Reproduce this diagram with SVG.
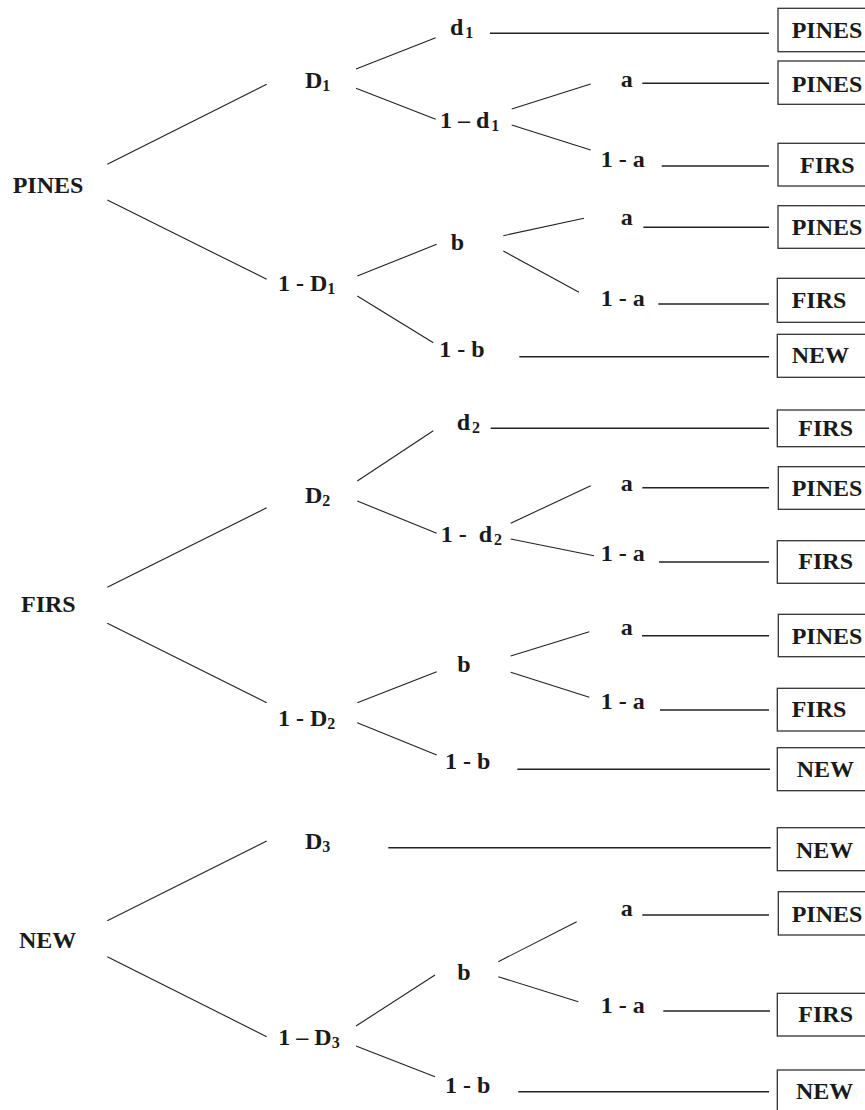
<svg xmlns="http://www.w3.org/2000/svg" width="865" height="1110" viewBox="0 0 865 1110">
<style>
text{font-family:"Liberation Serif","Times New Roman",serif;font-weight:bold;font-size:24px;fill:#1a1a1a}
.sub{font-size:16px}
.c line{stroke:#222;stroke-width:1.1;fill:none}
.c .h{stroke-width:1.4}
.box rect{fill:#fff;stroke:#333;stroke-width:1.3}
</style>
<rect width="865" height="1110" fill="#fff"/>
<g id="connectors" class="c">
<line x1="107.3" y1="164.3" x2="266.7" y2="84.3"/>
<line x1="107.3" y1="200" x2="266.7" y2="279.3"/>
<line x1="356" y1="69" x2="435.7" y2="37.7"/>
<line x1="356" y1="88.3" x2="435.7" y2="119.3"/>
<line x1="357.3" y1="276" x2="436.7" y2="244.3"/>
<line x1="357.3" y1="296" x2="433.3" y2="342.7"/>
<line x1="511.7" y1="109" x2="590.7" y2="84"/>
<line x1="511.7" y1="125" x2="590.7" y2="150"/>
<line x1="503.3" y1="235.7" x2="584" y2="218.3"/>
<line x1="503.3" y1="251" x2="579" y2="292.3"/>
<line class="h" x1="490" y1="33.3" x2="769" y2="33.3"/>
<line class="h" x1="642.3" y1="83.3" x2="769" y2="83.3"/>
<line class="h" x1="661.7" y1="166" x2="769" y2="166"/>
<line class="h" x1="643.3" y1="227.3" x2="769" y2="227.3"/>
<line class="h" x1="658.3" y1="304" x2="769" y2="304"/>
<line class="h" x1="519.3" y1="356.7" x2="769" y2="356.7"/>

<line x1="107.3" y1="587.3" x2="266.7" y2="507.7"/>
<line x1="107.3" y1="623.3" x2="266.7" y2="702.7"/>
<line x1="357.3" y1="481" x2="433.3" y2="430.7"/>
<line x1="357.3" y1="501" x2="436.7" y2="533.3"/>
<line x1="357.3" y1="702.7" x2="436.7" y2="671.7"/>
<line x1="357.3" y1="722.7" x2="436.7" y2="755"/>
<line x1="510.7" y1="523.3" x2="590.7" y2="485.7"/>
<line x1="510.7" y1="539" x2="594" y2="555.7"/>
<line x1="510.7" y1="656" x2="589.3" y2="631.7"/>
<line x1="510.7" y1="672.3" x2="589.3" y2="697.3"/>
<line class="h" x1="490.7" y1="428.3" x2="769" y2="428.3"/>
<line class="h" x1="642.3" y1="487.7" x2="769" y2="487.7"/>
<line class="h" x1="659" y1="562" x2="769" y2="562"/>
<line class="h" x1="642" y1="635.7" x2="769" y2="635.7"/>
<line class="h" x1="660" y1="710" x2="769" y2="710"/>
<line class="h" x1="517.3" y1="769.3" x2="770" y2="769.3"/>

<line x1="107.3" y1="920.7" x2="266.7" y2="841"/>
<line x1="107.3" y1="956.7" x2="266.7" y2="1036.7"/>
<line x1="356" y1="1026" x2="435" y2="975"/>
<line x1="356" y1="1046" x2="435" y2="1076.7"/>
<line x1="498.3" y1="961.7" x2="576.7" y2="921.7"/>
<line x1="498.3" y1="976.7" x2="578.3" y2="1001.7"/>
<line class="h" x1="388.3" y1="847.7" x2="770.7" y2="847.7"/>
<line class="h" x1="642.3" y1="915" x2="769" y2="915"/>
<line class="h" x1="663.3" y1="1011" x2="770" y2="1011"/>
<line class="h" x1="518.3" y1="1091.7" x2="769" y2="1091.7"/>
</g>

<g id="n-pines"><text x="12.7" y="193">PINES</text></g>
<g id="n-firs"><text x="21" y="612.3">FIRS</text></g>
<g id="n-new"><text x="19" y="947.7">NEW</text></g>

<g id="n-D1"><text x="305" y="88.3">D<tspan class="sub" dy="3">1</tspan></text></g>
<g id="n-1mD1"><text x="278" y="291">1 - D<tspan class="sub" dy="3">1</tspan></text></g>
<g id="n-d1"><text x="450" y="35">d<tspan class="sub" dx="2" dy="3">1</tspan></text></g>
<g id="n-1md1"><text x="440" y="127.7">1 – d<tspan class="sub" dx="2" dy="3">1</tspan></text></g>
<g id="n-a1"><text x="620.7" y="86.7">a</text></g>
<g id="n-1ma1"><text x="600.7" y="166.7">1 - a</text></g>
<g id="n-b1"><text x="450.7" y="250">b</text></g>
<g id="n-a2"><text x="620.7" y="225">a</text></g>
<g id="n-1ma2"><text x="600.7" y="306">1 - a</text></g>
<g id="n-1mb1"><text x="439.3" y="357.3">1 - b</text></g>

<g id="n-D2"><text x="305" y="503.3">D<tspan class="sub" dy="3">2</tspan></text></g>
<g id="n-1mD2"><text x="278" y="726">1 - D<tspan class="sub" dy="3">2</tspan></text></g>
<g id="n-d2"><text x="456.7" y="430">d<tspan class="sub" dx="2" dy="3">2</tspan></text></g>
<g id="n-1md2"><text x="440.7" y="541.7" xml:space="preserve">1 -  d<tspan class="sub" dx="2" dy="3">2</tspan></text></g>
<g id="n-a3"><text x="620.7" y="490.7">a</text></g>
<g id="n-1ma3"><text x="600.7" y="561">1 - a</text></g>
<g id="n-b2"><text x="457.3" y="671.7">b</text></g>
<g id="n-a4"><text x="620.7" y="635">a</text></g>
<g id="n-1ma4"><text x="600.7" y="709">1 - a</text></g>
<g id="n-1mb2"><text x="445" y="769">1 - b</text></g>

<g id="n-D3"><text x="305" y="849.3">D<tspan class="sub" dy="3">3</tspan></text></g>
<g id="n-1mD3"><text x="278.3" y="1045">1 – D<tspan class="sub" dy="3">3</tspan></text></g>
<g id="n-a5"><text x="620.7" y="916">a</text></g>
<g id="n-b3"><text x="457.3" y="980">b</text></g>
<g id="n-1ma5"><text x="600.7" y="1012.7">1 - a</text></g>
<g id="n-1mb3"><text x="445" y="1092.7">1 - b</text></g>

<g id="box1" class="box"><rect x="778" y="8.3" width="100" height="43.4"/><text x="791.7" y="38.3">PINES</text></g>
<g id="box2" class="box"><rect x="778" y="61" width="100" height="43.3"/><text x="791.7" y="91.7">PINES</text></g>
<g id="box3" class="box"><rect x="778" y="143.3" width="100" height="42.7"/><text x="800" y="172.7">FIRS</text></g>
<g id="box4" class="box"><rect x="778" y="205.7" width="100" height="42.6"/><text x="791.7" y="235">PINES</text></g>
<g id="box5" class="box"><rect x="777.3" y="278.3" width="100" height="44"/><text x="791.7" y="308.3">FIRS</text></g>
<g id="box6" class="box"><rect x="777.3" y="334.3" width="100" height="43"/><text x="791.7" y="363.3">NEW</text></g>
<g id="box7" class="box"><rect x="777.3" y="410" width="100" height="36.7"/><text x="798.3" y="436">FIRS</text></g>
<g id="box8" class="box"><rect x="778.3" y="466.7" width="100" height="42.6"/><text x="791.7" y="496">PINES</text></g>
<g id="box9" class="box"><rect x="777.3" y="540.7" width="100" height="42.6"/><text x="798.3" y="569">FIRS</text></g>
<g id="box10" class="box"><rect x="778.3" y="614.3" width="100" height="42.4"/><text x="791.7" y="644">PINES</text></g>
<g id="box11" class="box"><rect x="777.3" y="688.3" width="100" height="42.7"/><text x="791.7" y="717.3">FIRS</text></g>
<g id="box12" class="box"><rect x="777.3" y="747.7" width="100" height="43"/><text x="796.7" y="777.3">NEW</text></g>
<g id="box13" class="box"><rect x="777.3" y="827.7" width="100" height="43"/><text x="796" y="857.7">NEW</text></g>
<g id="box14" class="box"><rect x="778.3" y="891.7" width="100" height="43.3"/><text x="791.7" y="921.7">PINES</text></g>
<g id="box15" class="box"><rect x="777.3" y="993.3" width="100" height="42.7"/><text x="798.3" y="1022.3">FIRS</text></g>
<g id="box16" class="box"><rect x="777.3" y="1070" width="100" height="43"/><text x="796" y="1099.3">NEW</text></g>
</svg>
